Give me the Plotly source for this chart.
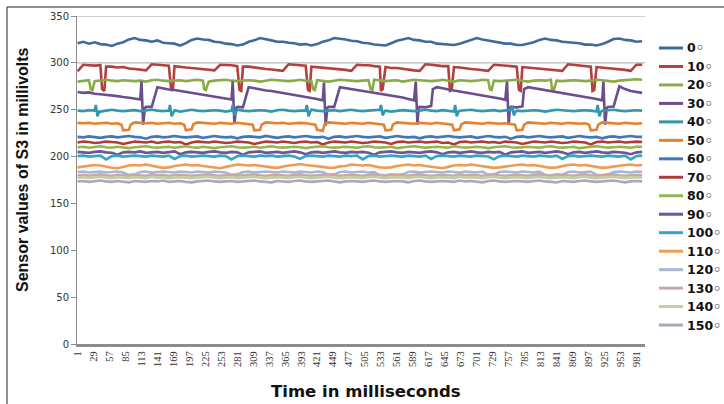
import plotly.graph_objects as go

# sample times (ms) of the base readings
time_ms = list(range(1, 992, 10))

tick_labels = ["1", "29", "57", "85", "113", "141", "169", "197", "225", "253", "281", "309",
               "337", "365", "393", "421", "449", "477", "505", "533", "561", "589", "617", "645",
               "673", "701", "729", "757", "785", "813", "841", "869", "897", "925", "953", "981"]
tick_values = [int(s) for s in tick_labels]

series_names = ["0◦", "10◦", "20◦", "30◦", "40◦", "50◦", "60◦", "70◦",
                "80◦", "90◦", "100◦", "110◦", "120◦", "130◦", "140◦", "150◦"]

colors = ["#3D6B9E", "#B0413E", "#8BAA48", "#6B4E8E", "#3198AE", "#E5812F", "#4277BD", "#B23B37",
          "#94B550", "#6F5499", "#33A6C4", "#EF9B52", "#A7B7D2", "#C9A9A8", "#C4CCA8", "#ADA7BD"]

s0 = [321, 322.5, 320.5, 322, 320, 319.5, 318, 320.5, 322, 325,
      326.5, 324.5, 324, 322.5, 324, 321.5, 321, 320.5, 318.5, 321,
      324.5, 326, 325, 324.5, 322.5, 322, 320.5, 320, 318.5, 319.5,
      322.5, 324, 326.5, 325.5, 324, 322.5, 322.5, 321.5, 321, 319.5,
      320, 318.5, 320, 322.5, 324, 326.5, 326, 325, 323.5, 323,
      321.5, 321, 319.5, 319, 318.5, 321, 323.5, 325, 326.5, 324.5,
      324, 322.5, 322.5, 320.5, 320, 319, 319, 320.5, 322.5, 324.5,
      326.5, 325, 324, 323, 322, 320.5, 320.5, 319, 319, 320.5,
      322, 324.5, 326, 324.5, 324, 322.5, 322, 321, 321, 319.5,
      319.5, 318.5, 320, 322.5, 325.5, 326, 324.5, 324, 322.5, 323]

s10 = [291,
       298, 297.5, 297, 297.5, 296, 296, 295, 295.5, 294, 293.5, 293, 292,
       298.5, 298, 297, 297, 296.5, 295.5, 295, 294.5, 294, 293, 292.5, 292,
       298, 298, 297.5, 296.5, 296, 296, 295, 294.5, 293.5, 293, 292, 291.5,
       298.5, 298, 297, 297, 296, 295.5, 295, 294, 294, 293, 292.5, 291.5,
       298, 297.5, 297.5, 296.5, 296, 295.5, 294.5, 294.5, 293.5, 293, 292, 291.5,
       298.5, 298, 297, 296.5, 296.5, 295.5, 295, 294, 293.5, 293, 292.5, 291.5,
       298, 297.5, 297, 297, 296, 295.5, 295, 294.5, 293.5, 293, 292.5, 292, 291.5,
       298.5, 298, 297, 296.5, 296, 295.5, 295, 294, 293.5, 293, 292.5, 291.5,
       298, 298]
ev10 = [(44, 272), (48, 270), (165, 272), (168, 270), (285, 271), (288, 270),
        (405, 271), (408, 270), (533, 270), (536, 272), (654, 270), (657, 271),
        (775, 271), (778, 270), (904, 270), (907, 271)]

s20 = [280, 281, 281.5, 280.5, 281, 282, 281, 280.5, 281.5, 281,
       280.5, 281, 280, 281.5, 282, 281, 280.5, 281, 281.5, 280.5,
       281, 282, 281, 280, 281, 281.5, 282, 281, 280.5, 281,
       281.5, 281, 280, 281, 282, 281.5, 281, 280.5, 281, 282,
       281, 280.5, 281.5, 281, 280, 281, 282, 281.5, 281, 280.5,
       281, 281.5, 282, 281, 280.5, 281, 281.5, 280, 281, 282,
       281.5, 281, 280.5, 281, 282, 281, 280, 281.5, 281, 280.5,
       281, 282, 281.5, 281, 280.5, 281, 281.5, 282, 281, 280,
       281, 281.5, 281, 282, 281, 280.5, 281, 281.5, 281, 280.5,
       281, 282, 281.5, 281, 280, 281, 281.5, 282, 282.5, 282]
ev20 = [(24, 272), (27, 271), (223, 272), (226, 271), (414, 272), (417, 271),
        (515, 272), (518, 271), (724, 272), (727, 271), (833, 272), (836, 271)]

s30 = [269, 268, 268.5, 267, 266.5, 266, 265, 264.5, 263.5, 263, 262, 261,
       253, 253,
       274, 272.5, 271.5, 271, 270, 269, 268, 267.5, 266.5, 265.5, 264.5, 263.5, 262.5, 261,
       253, 252.5,
       274, 273, 271.5, 270.5, 270, 269, 268, 267, 266, 265, 264, 263, 261.5, 260,
       253, 253,
       274, 273, 272, 271, 270, 269, 268, 267, 266.5, 265, 264, 263, 261.5, 260,
       253, 252.5, 254,
       274, 273, 271.5, 270.5, 269.5, 268.5, 267.5, 266.5, 265.5, 264.5, 263, 262, 260.5,
       253, 252.5, 253.5,
       274, 273, 272, 271, 270, 269, 268, 267, 266, 265, 264, 262.5, 261.5, 260,
       253, 253.5,
       275, 272, 270, 269, 268]
ev30 = [(113, 280), (116, 234), (119, 252), (273, 280), (276, 235), (279, 252),
        (433, 279), (436, 233), (439, 252), (594, 280), (597, 234), (599, 252),
        (624, 272), (754, 280), (757, 234), (759, 252), (784, 272),
        (923, 280), (926, 234), (929, 252)]

s40 = [249, 248.5, 249.5, 249, 248, 249, 250, 249, 248.5, 249,
       249.5, 248.5, 249, 250, 249, 248.5, 249, 249.5, 248, 249,
       250, 249, 248.5, 249, 249.5, 249, 248, 249, 250, 249,
       248.5, 249, 249.5, 249, 248, 249.5, 250, 249, 248.5, 249,
       249, 250, 249, 248.5, 249, 249.5, 248.5, 249, 250, 249,
       248.5, 249, 249.5, 250, 249, 248, 249, 249.5, 249, 248.5,
       249, 250, 249, 248.5, 249.5, 249, 248, 249, 249.5, 250,
       249, 248.5, 249, 249.5, 248.5, 249, 250, 249, 248.5, 249,
       249.5, 249, 248, 249, 250, 249.5, 249, 248.5, 249, 249.5,
       249, 248, 249, 249.5, 250, 249, 248.5, 249, 249.5, 249]
ev40 = [(33, 255), (36, 243), (39, 248), (163, 255), (166, 243), (169, 248),
        (273, 255), (276, 244), (279, 248), (403, 255), (406, 243), (409, 248),
        (533, 255), (536, 244), (539, 248), (663, 255), (666, 243), (669, 248),
        (763, 254), (766, 244), (769, 248), (913, 255), (916, 243), (919, 248)]

s50 = [236, 235.5, 236, 235, 235.5, 236, 235, 235.5, 228, 228.5,
       236.5, 236, 235.5, 236, 235, 235.5, 236, 235, 235.5, 228,
       229, 236.5, 236, 235.5, 235, 236, 235.5, 235, 236, 235.5,
       235, 228, 228.5, 236.5, 236, 235.5, 236, 235, 235.5, 236,
       235.5, 235, 228.5, 227.5, 236.5, 236, 235.5, 235, 236, 235.5,
       235, 236, 235.5, 235, 228, 228.5, 236.5, 236, 235.5, 235,
       236, 235.5, 235, 236, 235.5, 235, 228, 229, 236.5, 236,
       235.5, 235, 236, 235.5, 235, 235.5, 235, 228, 228.5, 236.5,
       236, 235.5, 235, 236, 235.5, 235, 236, 235.5, 235, 235.5,
       228, 228.5, 236.5, 236, 235.5, 235, 236, 235.5, 235, 235.5]
ev50 = [(78, 234), (94, 234), (188, 234), (204, 234.5), (308, 234), (324, 234),
        (418, 234), (434, 234), (538, 234), (554, 234), (658, 234), (674, 234.5),
        (768, 234), (784, 234), (898, 234), (914, 234)]

s60 = [221, 220.5, 221.5, 221, 220, 221, 221.5, 220.5, 221, 222,
       221, 220.5, 219, 221, 221.5, 220.5, 221, 222, 221, 220.5,
       221, 221.5, 220, 221, 222, 221, 220.5, 221, 219.5, 221,
       221.5, 221, 220.5, 222, 221, 220, 221, 221.5, 220.5, 221,
       222, 221, 220.5, 221, 219, 221, 221.5, 220.5, 221, 222,
       221, 220.5, 221, 221.5, 220, 221, 222, 221, 220.5, 221,
       219.5, 221, 221.5, 220.5, 221, 222, 221, 220.5, 221, 221.5,
       220, 221, 222, 221, 220.5, 221, 219, 221, 221.5, 220.5,
       221, 222, 221, 220.5, 221, 221.5, 220, 221, 222, 221,
       220.5, 221, 219.5, 221, 221.5, 220.5, 221, 222, 221, 221]

s70 = [215, 216, 215.5, 214.5, 215, 216, 215.5, 215, 213.5, 215,
       216, 215.5, 215, 216, 214.5, 215.5, 216, 215, 215.5, 213,
       215, 216, 215.5, 215, 216, 215.5, 214.5, 215, 216, 215.5,
       215, 213.5, 215, 216, 215.5, 215, 216, 215.5, 214.5, 215.5,
       216, 215, 215.5, 213, 215, 216, 215.5, 215, 216, 215.5,
       214.5, 215, 216, 215.5, 215, 213.5, 215.5, 216, 215, 215.5,
       216, 215, 215.5, 216, 214.5, 215, 213, 215.5, 216, 215,
       215.5, 216, 215, 215.5, 214.5, 216, 215.5, 215, 213.5, 215,
       216, 215.5, 215, 216, 215.5, 214.5, 215, 216, 215.5, 215,
       213, 215.5, 216, 215, 215.5, 216, 215, 215.5, 216, 215.5]

s80 = [210, 210.5, 209.5, 210, 211, 210, 209.5, 210.5, 210, 209,
       210, 210.5, 211, 210, 209.5, 210, 210.5, 209.5, 210, 211,
       210, 209.5, 210.5, 210, 209, 210, 210.5, 211, 210, 209.5,
       210, 210.5, 209.5, 210, 211, 210, 209.5, 210, 210.5, 210,
       209, 210, 210.5, 211, 210, 209.5, 210, 210.5, 210, 209.5,
       210.5, 211, 210, 209.5, 210, 210.5, 209, 210, 210.5, 211,
       210, 209.5, 210, 210.5, 210, 209.5, 211, 210, 209.5, 210,
       210.5, 210, 209, 210, 210.5, 211, 210, 209.5, 210, 210.5,
       210, 209.5, 210.5, 211, 210, 209.5, 210, 210.5, 209, 210,
       210.5, 211, 210, 209.5, 210, 210.5, 210, 209.5, 210.5, 210.5]

s90 = [205, 204.5, 204, 205, 205.5, 204.5, 204, 202, 204.5, 205,
       204.5, 205.5, 204, 204.5, 205, 204, 204.5, 205.5, 202.5, 204.5,
       205, 204.5, 204, 205, 205.5, 204.5, 204, 205, 204.5, 202,
       204.5, 205, 205.5, 204, 204.5, 205, 204, 204.5, 205.5, 204.5,
       202.5, 204.5, 205, 204, 204.5, 205.5, 204.5, 204, 205, 204.5,
       205, 204, 202, 204.5, 205, 205.5, 204.5, 204, 205, 204.5,
       204, 205, 205.5, 204.5, 202.5, 204.5, 205, 204, 204.5, 205.5,
       204.5, 204, 205, 204.5, 205, 202, 204.5, 205, 205.5, 204,
       204.5, 205, 204, 204.5, 205.5, 204.5, 202.5, 204.5, 205, 204,
       204.5, 205.5, 204.5, 204, 205, 204.5, 204, 202.5, 204.5, 205]

s100 = [200.5, 201, 200, 200.5, 201, 197, 200.5, 201, 200, 200.5,
        201, 200.5, 200, 201, 200.5, 200, 201, 197.5, 200.5, 201,
        200, 200.5, 201, 200.5, 200, 201, 200.5, 197, 200.5, 201,
        200.5, 200, 201, 200.5, 201, 200, 200.5, 201, 200, 197.5,
        200.5, 201, 200.5, 200, 201, 200.5, 200, 201, 200.5, 201,
        197, 200.5, 201, 200, 200.5, 201, 200.5, 200, 201, 200.5,
        200, 201, 197.5, 200.5, 201, 200.5, 200, 201, 200.5, 200,
        201, 200.5, 200, 197, 200.5, 201, 200.5, 200, 201, 200.5,
        200, 201, 200.5, 200, 201, 197.5, 200.5, 201, 200, 200.5,
        201, 200.5, 200, 201, 200.5, 200, 201, 197, 200.5, 201]

s110 = [188.5, 189.5, 190, 191, 190.5, 189, 188, 187.5, 189, 190.5,
        191, 190.5, 191.5, 190, 189, 188, 188.5, 190, 191, 191.5,
        190.5, 191, 190, 189, 188, 187.5, 189, 190, 191.5, 191,
        190.5, 191, 190, 189, 188.5, 188, 189.5, 190.5, 191, 192,
        191, 190.5, 190, 189, 188, 188, 189.5, 190, 191.5, 191,
        190.5, 191, 189.5, 188.5, 188, 188.5, 190, 191, 191.5, 190.5,
        191, 190, 189, 188, 187.5, 189, 190.5, 191, 190.5, 191.5,
        190.5, 190, 189, 188, 188.5, 189.5, 190.5, 191, 191.5, 190.5,
        191, 190, 189, 188, 188.5, 190, 191, 191.5, 190.5, 191,
        190, 189, 188, 188.5, 189.5, 190.5, 191, 191.5, 190.5, 191]

s120 = [183.5, 184, 183, 183.5, 184, 183, 183.5, 184, 183, 180.5,
        181, 183.5, 184, 183, 183.5, 184, 183.5, 183, 184, 183.5,
        183, 184, 183.5, 183, 184, 183.5, 183, 180.5, 181, 183.5,
        184, 183, 183.5, 184, 183.5, 183, 184, 183.5, 183, 184,
        183.5, 183, 184, 183.5, 180.5, 181, 183.5, 184, 183, 183.5,
        184, 183, 183.5, 180.5, 180, 181, 180.5, 181, 183.5, 184,
        183, 183.5, 184, 183.5, 183, 184, 183.5, 183, 184, 183.5,
        183, 184, 180.5, 181, 183.5, 184, 183.5, 183, 184, 183.5,
        183, 184, 180.5, 180, 181, 180.5, 183.5, 184, 183, 183.5,
        184, 180.5, 180, 181, 183.5, 184, 183.5, 183, 184, 183.5]

s130 = [180, 180.5, 179.5, 180, 181, 180, 179.5, 180.5, 180, 179.5,
        180.5, 180, 179.5, 181, 180, 180.5, 179.5, 180, 180.5, 180,
        179.5, 180, 180.5, 181, 180, 179.5, 180, 180.5, 179.5, 180,
        180.5, 181, 180, 179.5, 180, 180.5, 180, 179.5, 180.5, 181,
        180, 179.5, 180, 180.5, 181, 180, 179.5, 180, 180.5, 180,
        179.5, 180.5, 181, 180, 179.5, 180, 180.5, 180, 179.5, 180.5,
        181, 180, 179.5, 180, 180.5, 180, 179.5, 181, 180, 180.5,
        180, 179.5, 180.5, 181, 180, 179.5, 180, 180.5, 180, 179.5,
        180.5, 181, 180, 179.5, 180, 180.5, 180, 179.5, 180.5, 181,
        180, 179.5, 180, 180.5, 181, 180, 179.5, 180, 180.5, 180]

s140 = [177.5, 178, 177, 177.5, 178.5, 177.5, 177, 178, 177.5, 177,
        178, 177.5, 177, 178.5, 177.5, 178, 177, 177.5, 178, 177.5,
        177, 177.5, 178, 178.5, 177.5, 177, 177.5, 178, 177, 177.5,
        178, 178.5, 177.5, 177, 177.5, 178, 177.5, 177, 178, 178.5,
        177.5, 177, 177.5, 178, 178.5, 177.5, 177, 177.5, 178, 177.5,
        177, 178, 178.5, 177.5, 177, 177.5, 178, 177.5, 177, 178,
        178.5, 177.5, 177, 177.5, 178, 177.5, 177, 178.5, 177.5, 178,
        177.5, 177, 178, 178.5, 177.5, 177, 177.5, 178, 177.5, 177,
        178, 178.5, 177.5, 177, 177.5, 178, 177.5, 177, 178, 178.5,
        177.5, 177, 177.5, 178, 178.5, 177.5, 177, 177.5, 178, 177.5]

s150 = [173.5, 174, 173, 173.5, 174.5, 173.5, 173, 174, 173.5, 172.5,
        174, 173.5, 173, 174, 173.5, 174.5, 173, 173.5, 174, 173,
        172.5, 173.5, 174, 174.5, 173.5, 173, 173.5, 174, 173, 173.5,
        174, 174.5, 173.5, 173, 172.5, 174, 173.5, 173, 174, 174.5,
        173.5, 173, 173.5, 174, 174.5, 173.5, 172.5, 173.5, 174, 173.5,
        173, 174, 174.5, 173.5, 173, 173.5, 174, 173.5, 172.5, 174,
        174.5, 173.5, 173, 173.5, 174, 173.5, 173, 174.5, 173.5, 174,
        173.5, 172.5, 174, 174.5, 173.5, 173, 173.5, 174, 173.5, 173,
        174, 174.5, 173.5, 173, 172.5, 174, 173.5, 173, 174, 174.5,
        173.5, 173, 173.5, 174, 174.5, 173.5, 172.5, 173.5, 174, 173.5]

series_values = [s0, s10, s20, s30, s40, s50, s60, s70, s80, s90, s100, s110, s120, s130, s140, s150]
series_events = [[], ev10, ev20, ev30, ev40, ev50, [], [], [], [], [], [], [], [], [], []]


def merged(base, events):
    pts = sorted(list(zip(time_ms, base)) + list(events))
    return [p[0] for p in pts], [p[1] for p in pts]


fig = go.Figure()
for name, col, vals, evs in zip(series_names, colors, series_values, series_events):
    xs, ys = merged(vals, evs)
    fig.add_trace(go.Scatter(x=xs, y=ys, mode="lines", name=name, showlegend=False,
                             line=dict(color=col, width=2.6)))

# plot pixel helpers (paper coords)
L, R, T, B = 77, 645, 16, 344
def px(p):
    return (p - L) / (R - L)
def py(p):
    return (B - p) / (B - T)

annotations = [
    dict(text="Time in milliseconds", xref="paper", yref="paper", x=px(366), y=py(392),
         xanchor="center", yanchor="middle", showarrow=False,
         font=dict(family="DejaVu Sans", size=16.5, color="#111111", weight="bold")),
    dict(text="Sensor values of S3 in millivolts", xref="paper", yref="paper", x=px(22), y=py(170),
         xanchor="center", yanchor="middle", showarrow=False, textangle=-90,
         font=dict(family="Liberation Sans", size=16, color="#111111", weight="bold")),
]
shapes = [
    dict(type="line", xref="paper", yref="y", x0=0, x1=1, y0=300, y1=300,
         line=dict(color="#A6A6A6", width=1), layer="below"),
    dict(type="line", xref="paper", yref="y", x0=0, x1=1, y0=350, y1=350,
         line=dict(color="#A6A6A6", width=1), layer="below"),
    dict(type="line", xref="paper", yref="paper", x0=px(7), x1=px(730), y0=py(7), y1=py(7),
         line=dict(color="#222222", width=1)),
    dict(type="line", xref="paper", yref="paper", x0=px(7), x1=px(7), y0=py(7), y1=py(410),
         line=dict(color="#222222", width=1)),
]

# legend: one row per series (line sample + label)
row_top, row_step = 48, 18.47
for i, (name, col) in enumerate(zip(series_names, colors)):
    yy = py(row_top + i * row_step)
    shapes.append(dict(type="line", xref="paper", yref="paper", x0=px(659), x1=px(683), y0=yy, y1=yy,
                       line=dict(color=col, width=3)))
    annotations.append(dict(text=name, xref="paper", yref="paper", x=px(685), y=yy,
                            xanchor="left", yanchor="middle", showarrow=False,
                            font=dict(family="DejaVu Sans", size=12.5, color="#111111", weight="bold")))

fig.update_layout(
    width=724, height=404,
    margin=dict(l=L, r=724 - R, t=T, b=404 - B),
    paper_bgcolor="white", plot_bgcolor="white",
    showlegend=False,
    xaxis=dict(range=[0, 996], tickmode="array", tickvals=tick_values, ticktext=tick_labels,
               tickangle=-90, tickfont=dict(family="Liberation Serif", size=10.5, color="#333333"),
               showgrid=False, zeroline=False, showline=True, linecolor="#8C8C8C", linewidth=3,
               ticks="", automargin=False),
    yaxis=dict(range=[0, 350], dtick=50, tickfont=dict(family="DejaVu Sans", size=10, color="#333333"),
               showgrid=False, zeroline=False, showline=True, linecolor="#8C8C8C", linewidth=1,
               ticks="outside", ticklen=5, tickcolor="#8C8C8C", automargin=False),
    annotations=annotations,
    shapes=shapes,
)

fig.write_html("out.html")
